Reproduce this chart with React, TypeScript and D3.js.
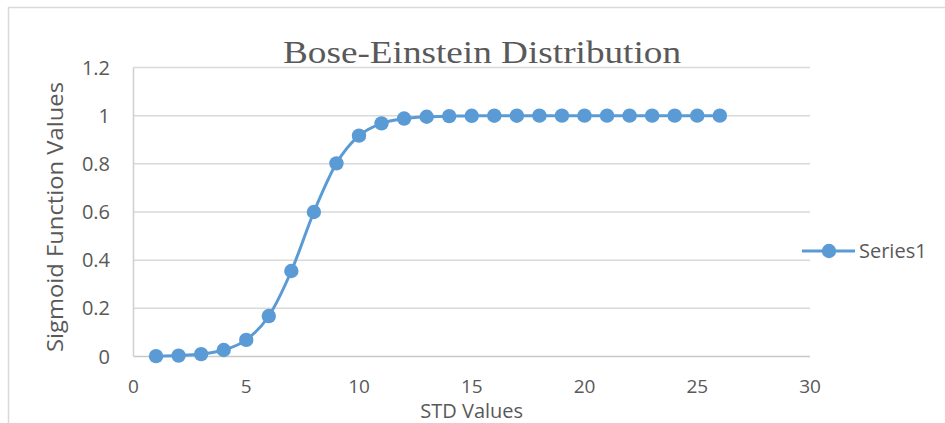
import React from "react";
import * as d3 from "d3";

// STD values (x) and sigmoid values
const stdValues = [1, 2, 3, 4, 5, 6, 7, 8, 9, 10, 11, 12, 13, 14, 15, 16, 17, 18, 19, 20, 21, 22, 23, 24, 25, 26];
const sigmoidValues = [
  0.0014, 0.0037, 0.01, 0.027, 0.069, 0.168, 0.355, 0.6, 0.802, 0.917, 0.968, 0.988, 0.9955,
  0.9983, 0.9994, 0.9998, 0.9999, 1, 1, 1, 1, 1, 1, 1, 1, 1,
];
const xTicks = [0, 5, 10, 15, 20, 25, 30];
const yTicks = [0, 0.2, 0.4, 0.6, 0.8, 1, 1.2];
const seriesName = "Series1";

const WIDTH = 945;
const HEIGHT = 423;
const BLUE = "#5B9BD5";
const TEXT = "#595959";
const GRID = "#d9d9d9";
const SANS = "'Open Sans', 'Noto Sans', sans-serif";

export default function App() {
  const x = d3.scaleLinear().domain([0, 30]).range([133.5, 810]);
  const y = d3.scaleLinear().domain([0, 1.2]).range([356.5, 67.5]);

  const points = stdValues.map((v, i) => ({ x: v, y: sigmoidValues[i] }));

  // smoothed line like the spreadsheet's
  const line = d3
    .line<{ x: number; y: number }>()
    .x((d) => x(d.x))
    .y((d) => y(d.y))
    .curve(d3.curveCatmullRom.alpha(0));

  return (
    <svg
      width={WIDTH}
      height={HEIGHT}
      style={{ position: "absolute", left: 0, top: 0, background: "#fff" }}
    >
      {/* chart frame */}
      <rect x={8.5} y={7.5} width={WIDTH + 10} height={HEIGHT + 10} fill="#fff" stroke={GRID} strokeWidth={1.5} />

      {/* title */}
      <text
        x={482}
        y={63}
        textAnchor="middle"
        fontFamily="'Liberation Serif', 'Times New Roman', serif"
        fontSize={31}
        fill={TEXT}
        textLength={398}
        lengthAdjust="spacingAndGlyphs"
      >
        Bose-Einstein Distribution
      </text>

      {/* gridlines */}
      {yTicks.map((t) => (
        <line
          key={"g" + t}
          x1={x(0)}
          x2={x(30)}
          y1={y(t)}
          y2={y(t)}
          stroke={t === 0 ? "#c8c8c8" : GRID}
          strokeWidth={1.5}
        />
      ))}
      {/* left axis line */}
      <line x1={x(0)} x2={x(0)} y1={y(1.2)} y2={y(0)} stroke="#d0d0d0" strokeWidth={1.5} />

      {/* y tick labels */}
      {yTicks.map((t) => (
        <text
          key={"y" + t}
          x={110}
          y={y(t)}
          dy="0.35em"
          textAnchor="end"
          fontFamily={SANS}
          fontSize={20}
          fill={TEXT}
        >
          {String(t)}
        </text>
      ))}

      {/* x tick labels */}
      {xTicks.map((t) => (
        <text
          key={"x" + t}
          x={x(t)}
          y={393}
          textAnchor="middle"
          fontFamily={SANS}
          fontSize={19}
          fill={TEXT}
        >
          {t}
        </text>
      ))}

      {/* axis titles */}
      <text x={471.7} y={418} textAnchor="middle" fontFamily={SANS} fontSize={20} fill={TEXT}>
        STD Values
      </text>
      <text
        transform="translate(63,217) rotate(-90)"
        textAnchor="middle"
        fontFamily={SANS}
        fontSize={21}
        fill={TEXT}
        textLength={270}
        lengthAdjust="spacingAndGlyphs"
      >
        Sigmoid Function Values
      </text>

      {/* series */}
      <path d={line(points) || ""} fill="none" stroke={BLUE} strokeWidth={3} />
      {points.map((p, i) => (
        <circle key={i} cx={x(p.x)} cy={y(p.y)} r={7.2} fill={BLUE} />
      ))}

      {/* legend */}
      <line x1={802} x2={855} y1={251} y2={251} stroke={BLUE} strokeWidth={3} />
      <circle cx={829} cy={251} r={7.2} fill={BLUE} />
      <text x={859} y={251} dy="0.35em" fontFamily={SANS} fontSize={20} fill={TEXT}>
        {seriesName}
      </text>
    </svg>
  );
}
